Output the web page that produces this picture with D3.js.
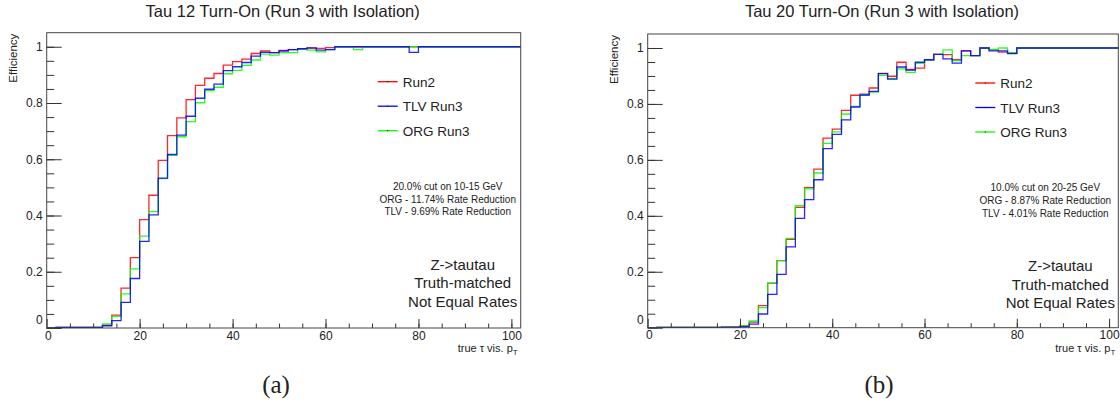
<!DOCTYPE html>
<html>
<head>
<meta charset="utf-8">
<script src="https://cdn.jsdelivr.net/npm/d3@7"></script>
<style>
  body { margin: 0; background: #fff; }
  svg text { font-family: "Liberation Sans", Arial, sans-serif; fill: #222; }
</style>
</head>
<body>
<svg id="chart" width="1120" height="408"></svg>
<script>
// bin lower edges, 2 GeV wide
var binEdges = d3.range(0, 102, 2);

// Tau 12 panel
var tau12Run2 = [0.000,0.002,0.002,0.002,0.002,0.002,
  0.010,0.046,0.142,0.250,0.385,0.472,0.596,0.684,0.747,0.812,0.863,0.888,0.905,0.935,
  0.947,0.956,0.976,0.985,0.979,0.987,0.990,0.993,0.995,0.994,0.997,
  1,1,1,1,1,1,1,1,1,1, 1,1,1,1,1,1,1,1,1,1];
var tau12TLV = [0.000,0.002,0.002,0.002,0.002,0.002,
  0.008,0.026,0.091,0.176,0.308,0.402,0.533,0.617,0.686,0.753,0.817,0.849,0.867,0.915,
  0.929,0.944,0.967,0.980,0.979,0.985,0.990,0.993,0.996,0.988,0.990,
  1,1,1,1,1,1,1,1,0.980,1, 1,1,1,1,1,1,1,1,1,1];
var tau12ORG = [0.000,0.002,0.002,0.002,0.002,0.002,
  0.015,0.041,0.121,0.210,0.327,0.414,0.531,0.614,0.680,0.734,0.801,0.844,0.856,0.904,
  0.916,0.934,0.953,0.974,0.970,0.979,0.979,0.992,0.988,0.982,0.990,
  1,1,0.990,1,1,1,1,1,1,1, 1,1,1,1,1,1,1,1,1,1];

// Tau 20 panel
var tau20Run2 = [0.000,0.001,0.001,0.001,0.001,0.001,0.001,0.001,0.002,0.002,
  0.006,0.020,0.079,0.159,0.240,0.316,0.430,0.501,0.567,0.678,
  0.710,0.777,0.831,0.835,0.857,0.909,0.899,0.949,0.923,0.928,
  0.958,0.977,0.976,0.958,0.990,0.973,1.000,0.993,0.985,0.982,
  1,1,1,1,1,1,1,1,1,1,1];
var tau20TLV = [0.000,0.001,0.001,0.001,0.001,0.001,0.001,0.001,0.002,0.002,
  0.004,0.013,0.049,0.119,0.191,0.289,0.391,0.458,0.529,0.640,
  0.691,0.743,0.789,0.832,0.845,0.908,0.889,0.932,0.921,0.949,
  0.958,0.977,0.961,0.946,0.990,0.973,1.000,0.990,0.990,0.980,
  1,1,1,1,1,1,1,1,1,1,1];
var tau20ORG = [0.000,0.001,0.001,0.001,0.001,0.001,0.001,0.001,0.002,0.002,
  0.006,0.024,0.072,0.159,0.240,0.319,0.436,0.496,0.553,0.659,
  0.700,0.764,0.791,0.832,0.842,0.902,0.891,0.925,0.913,0.945,
  0.958,0.977,0.993,0.955,0.973,0.973,1.000,0.995,1.000,0.982,
  1,1,1,1,1,1,1,1,1,1,1];

var legendNames = ["Run2", "TLV Run3", "ORG Run3"];
var seriesColors = ["#ff0000", "#0000ff", "#00ff00"];
var yTicks = [0, 0.2, 0.4, 0.6, 0.8, 1];
var xTicks = [0, 20, 40, 60, 80, 100];

var panels = [
  {title: "Tau 12 Turn-On (Run 3 with Isolation)", caption: "(a)",
   x0: 46.7, x1: 520.7, y0: 32.7, y1: 328,
   series: [tau12Run2, tau12TLV, tau12ORG],
   notes: ["20.0% cut on 10-15 GeV", "ORG - 11.74% Rate Reduction", "TLV - 9.69% Rate Reduction"]},
  {title: "Tau 20 Turn-On (Run 3 with Isolation)", caption: "(b)",
   x0: 647.7, x1: 1118.3, y0: 34, y1: 327.7,
   series: [tau20Run2, tau20TLV, tau20ORG],
   notes: ["10.0% cut on 20-25 GeV", "ORG - 8.87% Rate Reduction", "TLV - 4.01% Rate Reduction"]}
];
var sampleLines = ["Z->tautau", "Truth-matched", "Not Equal Rates"];

var svg = d3.select("#chart");

function drawPanel(p) {
  var x = d3.scaleLinear().domain([0, 102]).range([p.x0, p.x1]);
  var y = d3.scaleLinear().domain([0, 1.05]).range([p.y1, p.y0]);
  var g = svg.append("g");
  var mid = (p.x0 + p.x1) / 2;

  // title
  g.append("text").attr("x", mid - 1).attr("y", 17)
    .attr("text-anchor", "middle").style("font-size", "16.5px").text(p.title);

  // histograms: red, green, blue on top
  var order = [0, 2, 1];
  order.forEach(function(k) {
    var vals = p.series[k];
    var pts = binEdges.map(function(e, i) { return [e, vals[i]]; });
    pts.push([102, vals[vals.length - 1]]);
    var line = d3.line()
      .x(function(d) { return x(d[0]); })
      .y(function(d) { return y(d[1]); })
      .curve(d3.curveStepAfter);
    g.append("path").attr("d", line(pts))
      .attr("fill", "none").attr("stroke", seriesColors[k])
      .attr("stroke-width", 1.3).attr("stroke-opacity", 0.85);
  });

  // axes
  var yAxis = g.append("g").attr("transform", "translate(" + p.x0 + ",0)")
    .call(d3.axisLeft(y).tickValues(yTicks).tickSize(-15).tickPadding(4)
      .tickFormat(function(d) { return d === 1 ? "1" : (d === 0 ? "0" : d3.format(".1f")(d)); }));
  g.append("g").attr("transform", "translate(" + p.x0 + ",0)")
    .call(d3.axisLeft(y).tickValues(d3.range(0.05, 1.04, 0.05)).tickSize(-7.5).tickFormat(""))
    .call(function(a) { a.select(".domain").remove(); });
  var xAxis = g.append("g").attr("transform", "translate(0," + p.y1 + ")")
    .call(d3.axisBottom(x).tickValues(xTicks).tickSize(-9).tickPadding(3));
  g.append("g").attr("transform", "translate(0," + p.y1 + ")")
    .call(d3.axisBottom(x).tickValues(d3.range(5, 101, 5)).tickSize(-4.5).tickFormat(""))
    .call(function(a) { a.select(".domain").remove(); });
  [yAxis, xAxis].forEach(function(a) { a.select(".domain").remove(); });
  g.selectAll(".tick line").attr("stroke", "#333");
  g.selectAll(".tick text").style("font-size", "12px").attr("fill", "#222");
  yAxis.selectAll(".tick text").filter(function(d) { return d === 0; }).attr("dy", "-0.35em");
  xAxis.selectAll(".tick text").filter(function(d) { return d === 0; }).attr("dx", "0.1em");

  // frame
  g.append("rect").attr("x", p.x0).attr("y", p.y0)
    .attr("width", p.x1 - p.x0).attr("height", p.y1 - p.y0)
    .attr("fill", "none").attr("stroke", "#444").attr("stroke-width", 1);

  // axis titles
  g.append("text").attr("transform", "translate(" + (p.x0 - 30) + "," + (p.y0 + 1) + ") rotate(-90)")
    .attr("text-anchor", "end").style("font-size", "11.5px").text("Efficiency");
  var xt = g.append("text").attr("x", p.x1 - 3).attr("y", p.y1 + 24)
    .attr("text-anchor", "end").style("font-size", "11px");
  xt.append("tspan").text("true \u03c4 vis. p");
  xt.append("tspan").attr("dy", 3).style("font-size", "8px").text("T");

  // legend
  var lx = p.x1 - 143;
  legendNames.forEach(function(name, i) {
    var ly = p.y0 + 49 + i * 24.5;
    g.append("line").attr("x1", lx).attr("x2", lx + 20).attr("y1", ly).attr("y2", ly)
      .attr("stroke", seriesColors[i]).attr("stroke-width", 1.3);
    g.append("rect").attr("x", lx + 9.5).attr("y", ly - 0.5).attr("width", 1).attr("height", 1).attr("fill", "#000");
    g.append("text").attr("x", lx + 25).attr("y", ly + 5).style("font-size", "13.5px").text(name);
  });

  // cut notes
  var nx = p.x1 - 73;
  p.notes.forEach(function(t, i) {
    g.append("text").attr("x", nx).attr("y", p.y0 + 157 + i * 12.8)
      .attr("text-anchor", "middle").style("font-size", "10px").text(t);
  });

  // sample text
  sampleLines.forEach(function(t, i) {
    g.append("text").attr("x", p.x1 - 58).attr("y", p.y0 + 237 + i * 18.5)
      .attr("text-anchor", "middle").style("font-size", "15px").text(t);
  });

  // caption
  svg.append("text").attr("x", p.caption === "(a)" ? 276 : 879).attr("y", 393)
    .attr("text-anchor", "middle")
    .style("font-family", "'Liberation Serif', 'DejaVu Serif', serif").style("font-size", "25px")
    .text(p.caption);
}

panels.forEach(drawPanel);
</script>
</body>
</html>
